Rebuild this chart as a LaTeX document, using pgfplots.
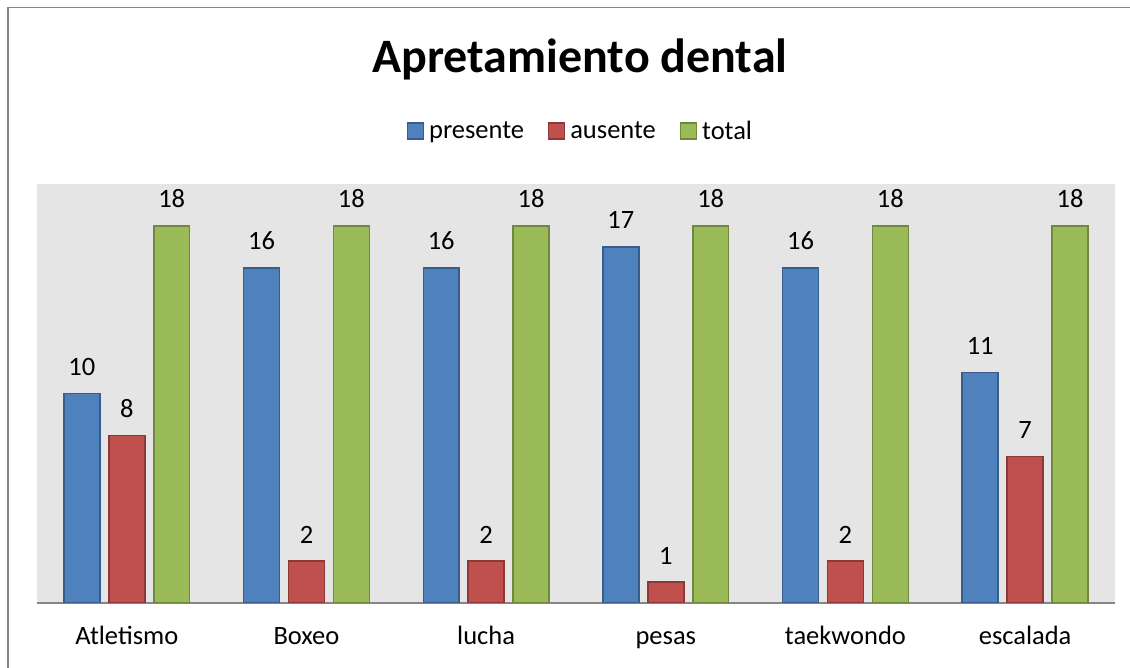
\documentclass[border=0pt]{standalone}
\usepackage{fontspec}
\setmainfont{Carlito}
\usepackage{pgfplots}
\pgfplotsset{compat=1.18}
\definecolor{cblue}{HTML}{4F81BD}
\definecolor{cblueb}{HTML}{385D8A}
\definecolor{cred}{HTML}{C0504D}
\definecolor{credb}{HTML}{8C3836}
\definecolor{cgreen}{HTML}{9BBB59}
\definecolor{cgreenb}{HTML}{71893F}
\definecolor{frame}{HTML}{868686}
\begin{document}
\begin{tikzpicture}[x=1bp,y=1bp]
\path[use as bounding box] (0,0) rectangle (1130,668);
\draw[frame, line width=1.5bp] (7.75,0) -- (7.75,660.25) -- (1130,660.25);
\begin{axis}[
  at={(37bp,65bp)}, anchor=south west,
  scale only axis, width=1078bp, height=419bp,
  xmin=-0.5, xmax=5.5, ymin=0, ymax=20,
  enlargelimits=false,
  axis background/.style={fill=black!10},
  axis x line*=bottom, axis y line=none,
  x axis line style={-, draw=frame, line width=1.5bp},
  ytick=\empty,
  xtick={0,1,2,3,4,5},
  xticklabels={Atletismo,Boxeo,lucha,pesas,taekwondo,escalada},
  major tick length=0pt,
  xticklabel style={anchor=base, yshift=-42bp, font=\fontsize{26.5bp}{32bp}\selectfont},
  /pgf/number format/assume math mode=true,
  ybar, bar width=0.2,
  nodes near coords,
  nodes near coords style={anchor=base, yshift=18bp, inner sep=0pt, black, font=\fontsize{26.5bp}{32bp}\selectfont},
  title={Apretamiento dental},
  title style={at={(0.5,1)}, anchor=base, yshift=106bp, xshift=4bp, inner sep=0pt, font=\fontsize{48bp}{54bp}\selectfont\bfseries},
  legend columns=3,
  legend style={at={(0.5,1)}, anchor=center, yshift=53bp, xshift=6bp, draw=none, fill=none,
    font=\fontsize{26.5bp}{32bp}\selectfont,
    /tikz/every even column/.append style={column sep=19bp},
    nodes={inner xsep=5bp}},
  legend image code/.code={\draw[#1, line width=1.2bp] (0bp,-8bp) rectangle (16bp,8bp);},
]
\addplot[fill=cblue, draw=cblueb, line width=1.5bp, bar shift=-0.25] coordinates {(0,10) (1,16) (2,16) (3,17) (4,16) (5,11)};
\addplot[fill=cred, draw=credb, line width=1.5bp, bar shift=0] coordinates {(0,8) (1,2) (2,2) (3,1) (4,2) (5,7)};
\addplot[fill=cgreen, draw=cgreenb, line width=1.5bp, bar shift=0.25] coordinates {(0,18) (1,18) (2,18) (3,18) (4,18) (5,18)};
\legend{presente,ausente,total}
\end{axis}
\end{tikzpicture}
\end{document}
